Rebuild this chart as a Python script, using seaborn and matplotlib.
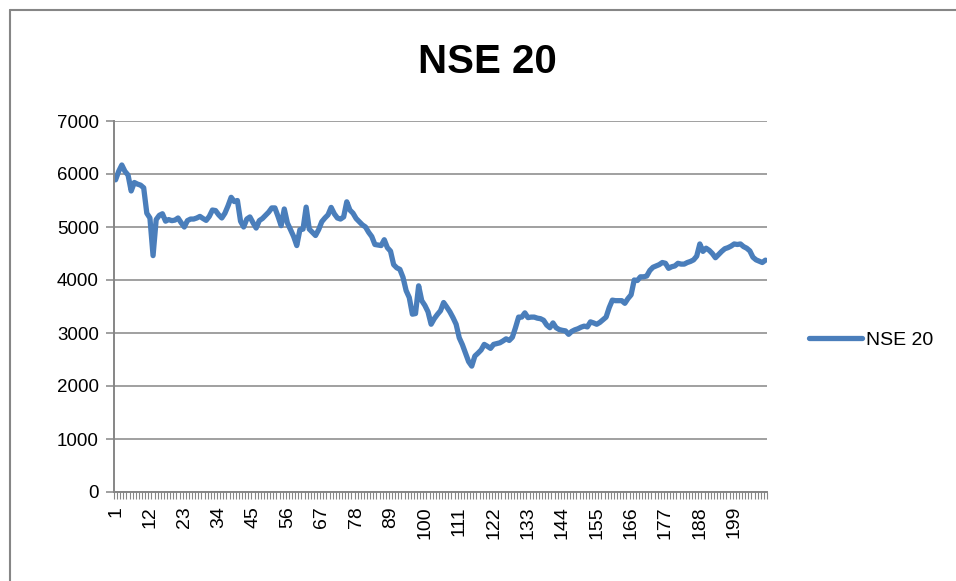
import numpy as np
import pandas as pd
import matplotlib
matplotlib.use("Agg")
import matplotlib.pyplot as plt
from matplotlib.lines import Line2D
from matplotlib.ticker import FixedLocator
import seaborn as sns

nse20 = [
    5890, 6050, 6170, 6050, 5980, 5680, 5840, 5810, 5790, 5740,
    5260, 5170, 4460, 5140, 5220, 5250, 5110, 5140, 5120, 5130,
    5170, 5080, 5000, 5120, 5150, 5150, 5170, 5200, 5160, 5125,
    5200, 5320, 5310, 5230, 5170, 5260, 5400, 5560, 5480, 5500,
    5110, 5000, 5150, 5190, 5080, 4980, 5120, 5160, 5220, 5280,
    5360, 5360, 5200, 5025, 5340, 5075, 4950, 4820, 4650, 4950,
    4960, 5375, 4960, 4900, 4840, 4950, 5100, 5170, 5230, 5370,
    5250, 5170, 5150, 5190, 5475, 5320, 5260, 5160, 5100, 5040,
    5000, 4900, 4820, 4670, 4660, 4650, 4760, 4610, 4545, 4290,
    4230, 4200, 4050, 3800, 3670, 3355, 3367, 3890, 3610, 3520,
    3400, 3165, 3270, 3350, 3420, 3575, 3490, 3400, 3290, 3165,
    2910, 2780, 2620, 2460, 2375, 2565, 2620, 2680, 2785, 2750,
    2710, 2785, 2800, 2815, 2850, 2890, 2860, 2920, 3100, 3300,
    3300, 3380, 3290, 3300, 3300, 3280, 3270, 3240, 3150, 3100,
    3190, 3100, 3065, 3050, 3040, 2975, 3030, 3060, 3080, 3110,
    3130, 3115, 3210, 3190, 3165, 3200, 3250, 3300, 3480, 3620,
    3610, 3610, 3610, 3560, 3650, 3720, 4000, 3990, 4060, 4060,
    4075, 4180, 4240, 4265, 4290, 4330, 4315, 4220, 4250, 4265,
    4315, 4300, 4300, 4330, 4350, 4380, 4450, 4680, 4540, 4600,
    4560, 4500, 4420, 4480, 4540, 4590, 4610, 4640, 4680, 4670,
    4680, 4630, 4600, 4550, 4430, 4380, 4355, 4330, 4375,
]
obs = list(range(1, len(nse20) + 1))
x_labels = list(range(1, 200, 11))
y_ticks = [0, 1000, 2000, 3000, 4000, 5000, 6000, 7000]

df = pd.DataFrame({"obs": obs, "NSE 20": nse20})

sns.set_style("white")
plt.rcParams["font.family"] = ["Liberation Sans", "DejaVu Sans"]
plt.rcParams["text.color"] = "black"

grid_col = "#868686"
line_col = "#4A7EBB"

fig = plt.figure(figsize=(9.56, 5.81), dpi=100)
ax = fig.add_axes([114 / 956, 1 - 492 / 581, (767 - 114) / 956, (492 - 121) / 581])

sns.lineplot(data=df, x="obs", y="NSE 20", ax=ax, color=line_col, lw=3.8,
             label="NSE 20", solid_joinstyle="round", solid_capstyle="round")

ax.set_xlim(0.5, len(nse20) + 0.5)
ax.set_ylim(0, 7000)
ax.set_yticks(y_ticks)
ax.set_yticklabels([str(v) for v in y_ticks])
ax.yaxis.grid(True, color=grid_col, lw=1.1)
ax.set_axisbelow(True)

# labels every 11th category, tick marks between every category
ax.set_xticks(x_labels)
ax.set_xticklabels([str(v) for v in x_labels], rotation=90)
ax.xaxis.set_minor_locator(FixedLocator(np.arange(0.5, len(nse20) + 1, 1.0)))
ax.tick_params(axis="x", which="major", length=0, pad=10, labelsize=14, labelcolor="black")
ax.tick_params(axis="x", which="minor", length=5, width=0.8, color=grid_col, direction="out", bottom=True)
ax.tick_params(axis="y", length=6, width=1.1, color=grid_col, pad=5, labelsize=13.5,
               labelcolor="black", left=True)

for side in ["top", "right"]:
    ax.spines[side].set_visible(False)
for side in ["left", "bottom"]:
    ax.spines[side].set_color(grid_col)
    ax.spines[side].set_linewidth(1.4)

ax.set_xlabel("")
ax.set_ylabel("")

fig.text(0.51, 1 - 62 / 581, "NSE 20", ha="center", va="center",
         fontsize=29, fontweight="bold", color="black")

ax.legend(loc="center left", bbox_to_anchor=(0.828, 1 - 340 / 581),
          bbox_transform=fig.transFigure, frameon=False, fontsize=14,
          handlelength=2.7, handletextpad=0.25)

# chart area border (left and top edges visible)
fig.add_artist(Line2D([10 / 956, 10 / 956], [0, 1 - 10 / 581], transform=fig.transFigure,
                      color=grid_col, lw=1.5))
fig.add_artist(Line2D([10 / 956, 1], [1 - 10 / 581, 1 - 10 / 581], transform=fig.transFigure,
                      color=grid_col, lw=1.5))

fig.savefig("out.png", dpi=100)
